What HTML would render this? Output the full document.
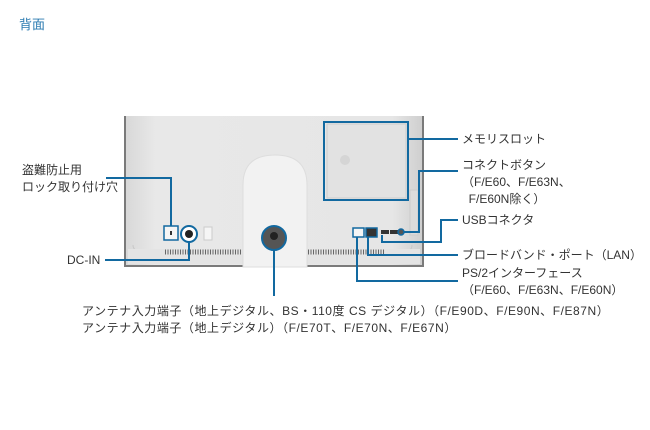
<!DOCTYPE html>
<html><head><meta charset="utf-8"><style>
body{margin:0;width:650px;height:430px;background:#fff;overflow:hidden;position:relative;font-family:"Liberation Sans","Noto Sans CJK JP",sans-serif;}
.t{position:absolute;font-size:12px;color:#333;white-space:nowrap;line-height:17px;}
</style></head><body>
<div class="t" style="left:19px;top:16px;color:#2a7ab0;font-size:13px">背面</div>
<svg width="650" height="430" style="position:absolute;left:0;top:0">
<defs><linearGradient id="g" x1="0" x2="1"><stop offset="0" stop-color="#d8d8d8"/><stop offset=".1" stop-color="#e8e8e8"/><stop offset=".9" stop-color="#e6e6e6"/><stop offset="1" stop-color="#cfcfcf"/></linearGradient></defs>
<rect x="124" y="116" width="300" height="151" fill="#7a7a7a"/>
<rect x="126" y="116" width="296" height="149" fill="url(#g)"/>
<path d="M133 245 Q133 252 145 252 L402 252 Q412 252 412 245" fill="none" stroke="#c8c8c8"/>
<rect x="128" y="249" width="292" height="15" fill="#e4e4e4"/>
<g stroke="#666" stroke-width="1">
<line x1="165" y1="252" x2="243" y2="252" stroke-dasharray="1 1.5" stroke-width="5"/>
<line x1="308" y1="252" x2="385" y2="252" stroke-dasharray="1 1.5" stroke-width="5"/>
</g>
<path d="M243 267 L243 185 Q243 155 275 155 Q307 155 307 185 L307 267 Z" fill="#f2f2f2" stroke="#ddd"/>
<rect x="327" y="124" width="79" height="74" fill="#e2e2e2" stroke="#ccc"/>
<circle cx="345" cy="160" r="5" fill="#d5d5d5"/>
<rect x="410" y="190" width="8" height="45" fill="#dcdcdc" stroke="#ccc"/>
<rect x="204" y="227" width="8" height="13" fill="#f5f5f5" stroke="#ccc"/>
<circle cx="274" cy="238" r="12" fill="#555" stroke="#1269a0" stroke-width="2"/>
<circle cx="274" cy="236" r="4" fill="#222"/>
<circle cx="189" cy="234" r="8" fill="#fff" stroke="#1269a0" stroke-width="2"/>
<circle cx="189" cy="234" r="4" fill="#222"/>
<rect x="164" y="226" width="14" height="14" fill="#f5f5f5" stroke="#1269a0" stroke-width="1.5"/>
<rect x="170" y="231" width="2" height="4" fill="#333"/>
<rect x="353" y="228" width="11" height="9" fill="#f5f5f5" stroke="#1269a0" stroke-width="1.5"/>
<rect x="366" y="228" width="11" height="9" fill="#333" stroke="#1269a0" stroke-width="1.5"/>
<rect x="381" y="230" width="8" height="4" fill="#333"/><rect x="390" y="230" width="8" height="4" fill="#333"/>
<circle cx="401" cy="232" r="3" fill="#555" stroke="#1269a0" stroke-width="1.5"/>
<g fill="none" stroke="#1269a0" stroke-width="2">
<rect x="324" y="122" width="84" height="78"/>
<polyline points="408,139 458,139"/>
<polyline points="458,171 419,171 419,232 404,232"/>
<polyline points="458,220 441,220 441,242 382,242 382,235"/>
<polyline points="458,255 368,255 368,237"/>
<polyline points="458,281 357,281 357,237"/>
<polyline points="106,178 171,178 171,226"/>
<polyline points="105,260 189,260 189,242"/>
<polyline points="274,250 274,296"/>
</g>
</svg>
<div class="t" style="left:462px;top:131px">メモリスロット</div>
<div class="t" style="left:462px;top:157px">コネクトボタン<br>（F/E60、F/E63N、<br>&nbsp;&nbsp;F/E60N除く）</div>
<div class="t" style="left:462px;top:212px">USBコネクタ</div>
<div class="t" style="left:462px;top:247px">ブロードバンド・ポート（LAN）</div>
<div class="t" style="left:462px;top:265px">PS/2インターフェース<br>（F/E60、F/E63N、F/E60N）</div>
<div class="t" style="left:22px;top:162px">盗難防止用<br>ロック取り付け穴</div>
<div class="t" style="left:67px;top:252px">DC-IN</div>
<div class="t" style="left:82px;top:303px;letter-spacing:0.55px">アンテナ入力端子（地上デジタル、BS・110度 CS デジタル）（F/E90D、F/E90N、F/E87N）<br>アンテナ入力端子（地上デジタル）（F/E70T、F/E70N、F/E67N）</div>
</body></html>
